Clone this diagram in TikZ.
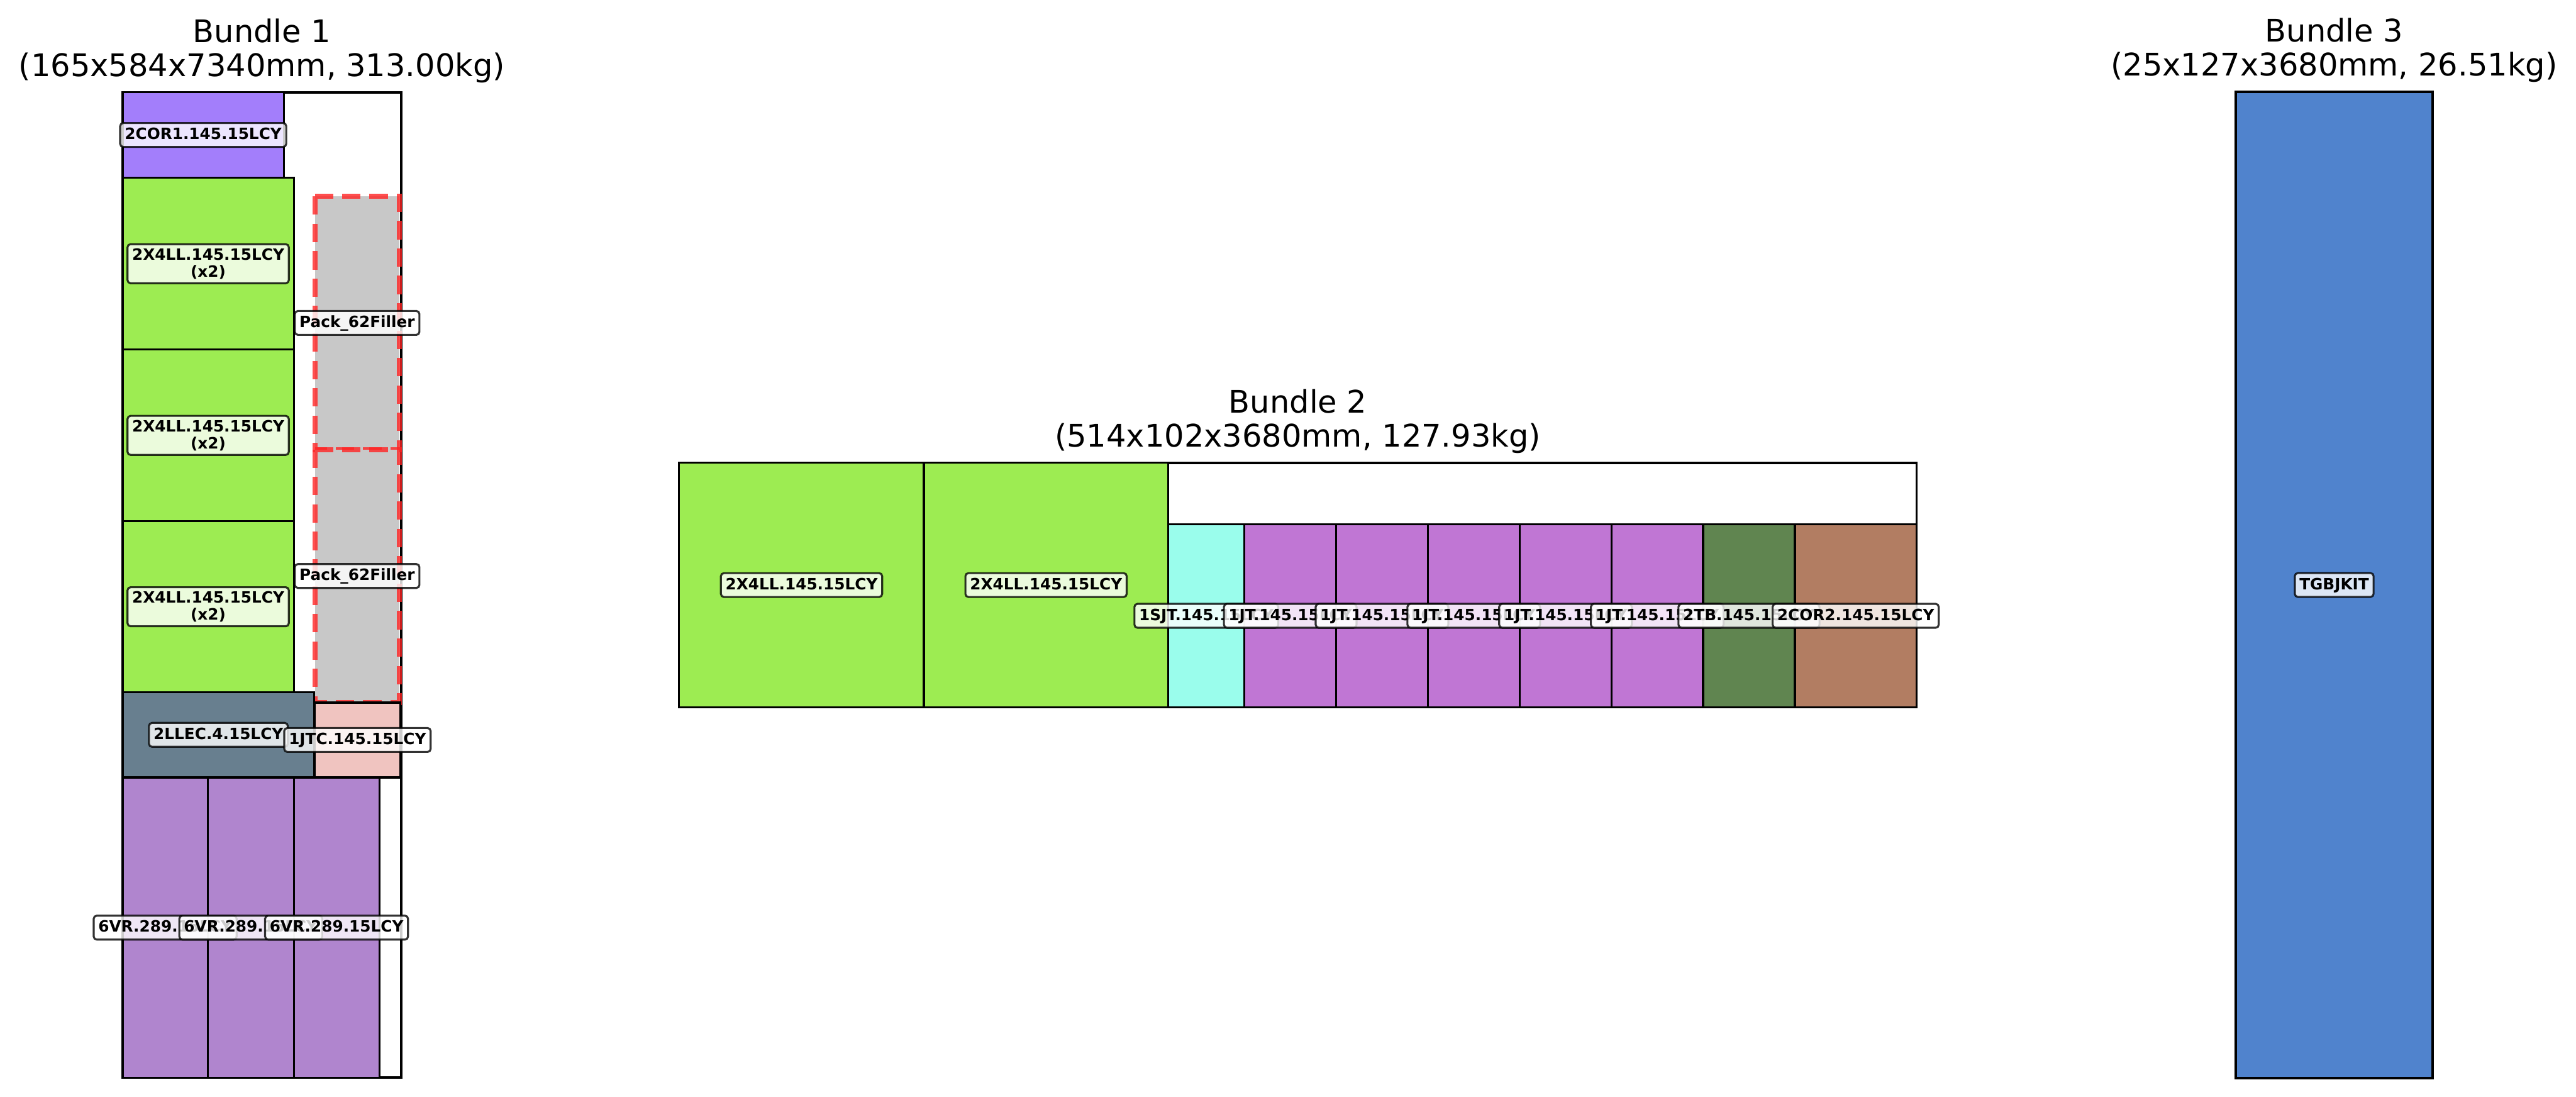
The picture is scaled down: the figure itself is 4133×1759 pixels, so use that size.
\documentclass[tikz,border=0pt]{standalone}
\usepackage{fontspec}
\setmainfont{DejaVu Sans}
\definecolor{corviolet}{HTML}{A37EFB}
\definecolor{llgreen}{HTML}{9DEC52}
\definecolor{fillgray}{HTML}{C8C8C8}
\definecolor{fillred}{HTML}{FF2424}
\definecolor{llecslate}{HTML}{687F8F}
\definecolor{jtcpink}{HTML}{F0C4C0}
\definecolor{vrlilac}{HTML}{B085CE}
\definecolor{sjtcyan}{HTML}{9AFDEC}
\definecolor{jtorchid}{HTML}{C076D4}
\definecolor{tbolive}{HTML}{608550}
\definecolor{corbrown}{HTML}{B27D62}
\definecolor{kitblue}{HTML}{5083CD}
\usepackage{tikz}

\begin{document}
\begin{tikzpicture}[x=0.01cm,y=-0.01cm,
    frame/.style={draw=black,fill=white,line width=1.14pt},
    part/.style={draw=black,line width=0.95pt},
    filler/.style={fill=fillgray,draw=fillred,draw opacity=0.8,line width=2.3pt,dash pattern=on 8.4pt off 4.1pt},
    tag/.style={draw=black,draw opacity=0.8,fill=white,fill opacity=0.8,text opacity=1,rounded corners=1.4pt,line width=0.9pt,
        inner xsep=2.1pt,inner ysep=1.9pt,text height=5.6pt,text depth=1.5pt,font=\fontsize{7.1}{7.8}\selectfont\bfseries},
    tagtwo/.style={tag,text height=,text depth=,align=center},
    title/.style={anchor=south,align=center,inner sep=0pt,font=\fontsize{14.2}{15.5}\selectfont}]
    \useasboundingbox (0,0) rectangle (4133,1759);
    % Bundle 1
    \draw[frame] (196.7,148) rectangle (643.9,1728.6);
    \draw[part,fill=corviolet] (196.7,148) rectangle (455.3,285.1);
    \draw[part,fill=llgreen] (196.7,285.1) rectangle (471.5,560.7);
    \draw[part,fill=llgreen] (196.7,560.7) rectangle (471.5,836);
    \draw[part,fill=llgreen] (196.7,836) rectangle (471.5,1110.5);
    \draw[filler] (505.1,315) rectangle (641.2,721);
    \draw[filler] (505.1,721) rectangle (641.2,1127);
    \draw[part,fill=llecslate] (196.7,1110.5) rectangle (504,1247);
    \draw[part,fill=jtcpink] (505,1127) rectangle (642,1247);
    \draw[part,fill=vrlilac] (196.7,1247) rectangle (333.3,1728.6);
    \draw[part,fill=vrlilac] (333.3,1247) rectangle (471.5,1728.6);
    \draw[part,fill=vrlilac] (471.5,1247) rectangle (608.7,1728.6);
    \node[tag] (cor1) at (326,216.5) {2COR1.145.15LCY};
    \node[tagtwo] (lla) at (334,423) {2X4LL.145.15LCY\\(x2)};
    \node[tag] (fila) at (573,518) {Pack\_62Filler};
    \node[tagtwo] (llb) at (334,698.4) {2X4LL.145.15LCY\\(x2)};
    \node[tag] (filb) at (573,924) {Pack\_62Filler};
    \node[tagtwo] (llc) at (334,973.3) {2X4LL.145.15LCY\\(x2)};
    \node[tag] (llec) at (350.4,1178.8) {2LLEC.4.15LCY};
    \node[tag] (jtc) at (573.5,1187) {1JTC.145.15LCY};
    \node[tag] (vra) at (265,1488) {6VR.289.15LCY};
    \node[tag] (vrb) at (402.4,1488) {6VR.289.15LCY};
    \node[tag] (vrc) at (540,1488) {6VR.289.15LCY};
    \node[title] (b1) at (420.3,133.3) {Bundle 1\\(165x584x7340mm, 313.00kg)};
    % Bundle 2
    \draw[frame] (1089.5,742.4) rectangle (3075,1134.6);
    \draw[part,fill=llgreen] (1089.5,742.4) rectangle (1482.2,1134.6);
    \draw[part,fill=llgreen] (1482.2,742.4) rectangle (1874.5,1134.6);
    \draw[part,fill=sjtcyan] (1874.5,841) rectangle (1996.5,1134.6);
    \draw[part,fill=jtorchid] (1996.5,841) rectangle (2143.7,1134.6);
    \draw[part,fill=jtorchid] (2143.7,841) rectangle (2290.9,1134.6);
    \draw[part,fill=jtorchid] (2290.9,841) rectangle (2438.1,1134.6);
    \draw[part,fill=jtorchid] (2438.1,841) rectangle (2585.3,1134.6);
    \draw[part,fill=jtorchid] (2585.3,841) rectangle (2732.5,1134.6);
    \draw[part,fill=tbolive] (2732.5,841) rectangle (2879.7,1134.6);
    \draw[part,fill=corbrown] (2879.7,841) rectangle (3075,1134.6);
    \node[tag] (lld) at (1286,938.5) {2X4LL.145.15LCY};
    \node[tag] (lle) at (1678.3,938.5) {2X4LL.145.15LCY};
    \node[tag] (sjt) at (1935.5,987.8) {1SJT.145.15LCY};
    \node[tag] (jta) at (2070.1,987.8) {1JT.145.15LCY};
    \node[tag] (jtb) at (2217.3,987.8) {1JT.145.15LCY};
    \node[tag] (jtc2) at (2364.5,987.8) {1JT.145.15LCY};
    \node[tag] (jtd) at (2511.7,987.8) {1JT.145.15LCY};
    \node[tag] (jte) at (2658.9,987.8) {1JT.145.15LCY};
    \node[tag] (tb) at (2806.1,987.8) {2TB.145.15LCY};
    \node[tag] (cor2) at (2977.3,987.8) {2COR2.145.15LCY};
    \node[title] (b2) at (2082.3,727.7) {Bundle 2\\(514x102x3680mm, 127.93kg)};
    % Bundle 3
    \draw[frame] (3587,147.7) rectangle (3903,1729);
    \draw[part,fill=kitblue] (3587,147.7) rectangle (3903,1729);
    \node[tag] (kit) at (3745,938.4) {TGBJKIT};
    \node[title] (b3) at (3745,133) {Bundle 3\\(25x127x3680mm, 26.51kg)};
\end{tikzpicture}
\end{document}
